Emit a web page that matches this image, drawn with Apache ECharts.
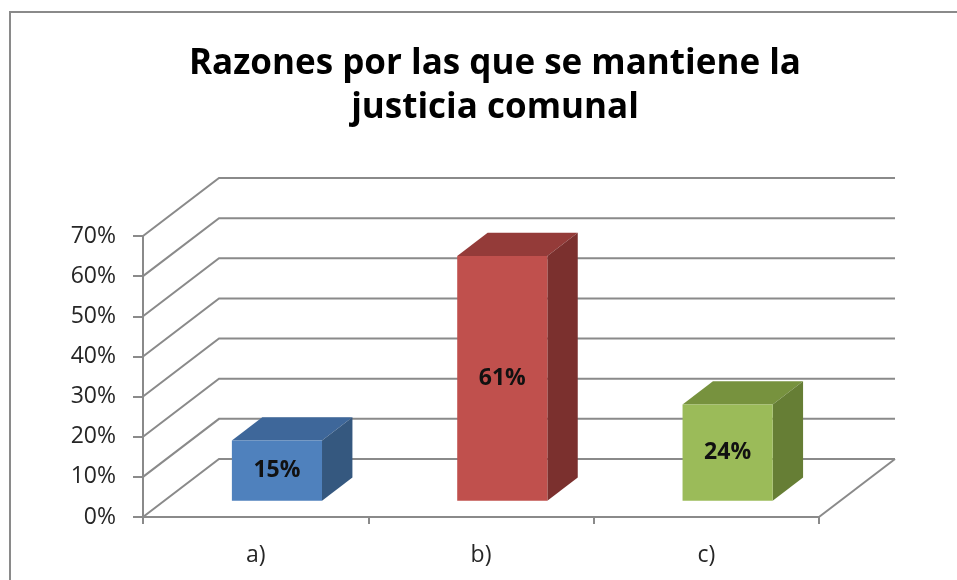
<!DOCTYPE html>
<html>
<head>
<meta charset="utf-8">
<script src="https://cdn.jsdelivr.net/npm/echarts@6/dist/echarts.min.js"></script>
<style>
  html, body { margin: 0; padding: 0; background: #fff; }
  #chart { width: 957px; height: 580px; }
</style>
</head>
<body>
<div id="chart"></div>
<script>
// datos
const categories = ['a)', 'b)', 'c)']
const values = [0.15, 0.61, 0.24]
const yTicks = [0, 0.1, 0.2, 0.3, 0.4, 0.5, 0.6, 0.7]

// colores de las caras (frente, arriba, lado)
const faceColors = [
  ['#4f81bd', '#3e679a', '#35587f'],
  ['#c0504d', '#943b39', '#7b302e'],
  ['#9bbb59', '#77923e', '#667e35']
]

// profundidad del efecto 3D
const DEPTH_X = 76
const DEPTH_Y = -58
const BAR_FRONT = 0.28
const BAR_BACK = 0.68
const BAR_WIDTH = 0.4
const GRID_COLOR = '#8a8a8a'
const FONT = '"Open Sans", "Noto Sans", sans-serif'

let myChart = echarts.init(document.getElementById('chart'))

let option = {
  backgroundColor: '#fff',
  animation: false,
  title: {
    text: 'Razones por las que se mantiene la\njusticia comunal',
    left: 490,
    top: 37,
    textAlign: 'center',
    textStyle: {
      fontFamily: FONT,
      fontSize: 35,
      fontWeight: 'bold',
      color: '#000',
      lineHeight: 44
    }
  },
  graphic: [{
    type: 'rect',
    shape: {x: 10, y: 12, width: 1000, height: 620},
    style: {fill: null, stroke: '#8a8a8a', lineWidth: 2},
    silent: true
  }],
  grid: {left: 143, right: 138, top: 236, bottom: 63},
  xAxis: {
    type: 'category',
    data: categories,
    boundaryGap: true,
    axisLine: {lineStyle: {color: GRID_COLOR, width: 2}},
    axisTick: {show: true, length: 7, lineStyle: {color: GRID_COLOR, width: 2}},
    axisLabel: {margin: 27, fontFamily: FONT, fontSize: 23, color: '#262626'},
    splitLine: {show: false}
  },
  yAxis: {
    type: 'value',
    min: 0,
    max: 0.7,
    interval: 0.1,
    axisLine: {show: true, lineStyle: {color: GRID_COLOR, width: 2}},
    axisTick: {show: true, length: 10, lineStyle: {color: GRID_COLOR, width: 2}},
    axisLabel: {
      margin: 27,
      fontFamily: FONT,
      fontSize: 23,
      color: '#262626',
      formatter: function (v) {
        return Math.round(v * 100) + '%'
      }
    },
    splitLine: {show: false}
  },
  series: [
    {
      // lineas de la pared del fondo y el piso
      type: 'custom',
      silent: true,
      z: 1,
      data: yTicks.map(function (v) { return [0, v] }),
      renderItem: function (params, api) {
        let cs = params.coordSys
        let v = api.value(1)
        let y = api.coord([0, v])[1]
        let style = {stroke: GRID_COLOR, lineWidth: 2, fill: null}
        let children = [{
          type: 'polyline',
          shape: {points: [[cs.x, y], [cs.x + DEPTH_X, y + DEPTH_Y], [cs.x + cs.width + DEPTH_X, y + DEPTH_Y]]},
          style: style
        }]
        if (v === 0) {
          children.push({
            type: 'line',
            shape: {x1: cs.x + cs.width, y1: y, x2: cs.x + cs.width + DEPTH_X, y2: y + DEPTH_Y},
            style: style
          })
        }
        return {type: 'group', children: children}
      }
    },
    {
      // columnas 3D
      type: 'custom',
      z: 2,
      data: values.map(function (v, i) { return [i, v] }),
      renderItem: function (params, api) {
        let cs = params.coordSys
        let i = api.value(0)
        let v = api.value(1)
        let base = api.coord([i, 0])
        let top = api.coord([i, v])
        let w = cs.width / categories.length * BAR_WIDTH
        let fx = DEPTH_X * BAR_FRONT
        let fy = DEPTH_Y * BAR_FRONT
        let bx = DEPTH_X * (BAR_BACK - BAR_FRONT)
        let by = DEPTH_Y * (BAR_BACK - BAR_FRONT)
        let x0 = base[0] - w / 2 + fx
        let x1 = x0 + w
        let yb = base[1] + fy
        let yt = top[1] + fy
        let c = faceColors[i]
        return {
          type: 'group',
          children: [
            {
              type: 'polygon',
              shape: {points: [[x0, yt], [x0 + bx, yt + by], [x1 + bx, yt + by], [x1, yt]]},
              style: {fill: c[1]}
            },
            {
              type: 'polygon',
              shape: {points: [[x1, yt], [x1 + bx, yt + by], [x1 + bx, yb + by], [x1, yb]]},
              style: {fill: c[2]}
            },
            {
              type: 'rect',
              shape: {x: x0, y: yt, width: w, height: yb - yt},
              style: {fill: c[0]}
            },
            {
              type: 'text',
              x: x0 + w / 2,
              y: (yt + yb) / 2,
              style: {
                text: Math.round(v * 100) + '%',
                textAlign: 'center',
                textVerticalAlign: 'middle',
                fontFamily: FONT,
                fontSize: 23,
                fontWeight: 'bold',
                fill: '#111'
              }
            }
          ]
        }
      }
    }
  ]
}

myChart.setOption(option)
</script>
</body>
</html>
